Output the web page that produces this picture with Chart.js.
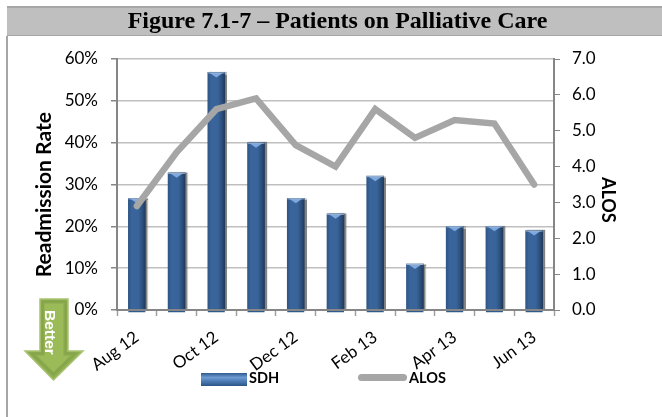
<!DOCTYPE html>
<html><head><meta charset="utf-8">
<script src="https://cdn.jsdelivr.net/npm/chart.js@4"></script>
<style>
html,body{margin:0;padding:0;background:#fff;overflow:hidden}
#wrap{position:relative;width:662px;height:417px}
#band{position:absolute;left:7px;top:6px;width:655px;height:30px;background:#bfbfbf;border-top:2px solid #a6a6a6;box-sizing:border-box;border-bottom:1px solid #a6a6a6}
#side{position:absolute;left:6px;top:36px;width:2px;height:381px;background:#a6a6a6}
canvas{position:absolute;left:0;top:0}
.lg{position:absolute;font:bold 14.5px Lato,sans-serif;color:#000;line-height:16px}
.sw{position:absolute}
#arrow{position:absolute;left:0;top:0}
</style></head><body>
<div id="wrap">
<div id="band"></div><div id="side"></div>
<canvas id="c" width="662" height="417"></canvas>
<svg id="arrow" width="662" height="417">
<path d="M40 299H68V351H83L53.5 380 25 351H40Z" fill="#8fb04f" stroke="#a9c273" stroke-width="1.5"/>
<path d="M43 302H65V354H74L53.5 374 33 354H43Z" fill="#9bbb59" stroke="#7d9a45" stroke-width="3" stroke-opacity=".55"/>
<text transform="translate(45 310) rotate(90)" font-family="Liberation Sans" font-weight="bold" font-size="15.5" fill="#fff">Better</text>
</svg>
<div class="sw" style="left:201px;top:373px;width:46px;height:13px;background:linear-gradient(#2f5a8f,#6f9ad2 35%,#4f7fb9 60%,#2c5587);"></div>
<div class="lg" id="l1" style="left:249px;top:370px"></div>
<div class="sw" style="left:358px;top:374px;width:49px;height:7px;border-radius:4px;background:#a6a6a6"></div>
<div class="lg" id="l2" style="left:409px;top:370px"></div>
</div>
<script>
const categories=['Aug 12','Sep 12','Oct 12','Nov 12','Dec 12','Jan 13','Feb 13','Mar 13','Apr 13','May 13','Jun 13'];
const sdhValues=[26.7,32.8,56.8,40,26.7,23,32,11,20,20,19];
const alosValues=[2.9,4.4,5.6,5.9,4.6,4.0,5.6,4.8,5.3,5.2,3.5];
const titleText='Figure 7.1-7 – Patients on Palliative Care';
const leftTitle='Readmission Rate';
const rightTitle='ALOS';
const sdhLabel='SDH', alosLabel='ALOS';
document.getElementById('l1').textContent=sdhLabel;
document.getElementById('l2').textContent=alosLabel;
const FONT='Lato, sans-serif';
const barFill=(cx)=>{
  const {chart,dataIndex}=cx;
  if(dataIndex===undefined) return '#3a6598';
  const x=chart.scales.x.getPixelForValue(dataIndex);
  if(!Number.isFinite(x)) return '#3a6598';
  const g=chart.ctx.createLinearGradient(x-8.5,0,x+8.5,0);
  g.addColorStop(0,'#2e5585');g.addColorStop(.2,'#3a659c');g.addColorStop(.6,'#38649a');g.addColorStop(.85,'#2a4d78');g.addColorStop(1,'#1f3a5c');
  return g;
};
const barDecor={id:'barDecor',
  beforeDatasetDraw(chart,a){
    if(a.index!==1)return;
    const c=chart.ctx;c.save();c.shadowColor='rgba(110,110,110,.85)';c.shadowOffsetX=2;c.shadowBlur=1;
  },
  afterDatasetDraw(chart,a){
    if(a.index!==1)return;
    const c=chart.ctx;c.restore();c.save();
    a.meta.data.forEach(el=>{
      const {x,y,base,width}=el.getProps(['x','y','base','width'],true);
      const l=x-width/2;
      c.fillStyle='#2f5a8c';c.fillRect(l,base,width,3);
      c.fillStyle='#7fa9de';c.beginPath();c.moveTo(l+2,y+.5);c.lineTo(l+width-2,y+.5);c.lineTo(x,y+5);c.closePath();c.fill();
      c.fillStyle='#9fb6d2';c.fillRect(l,y,width,1);
    });
    c.restore();
  }};
new Chart(document.getElementById('c'),{
  data:{labels:categories,datasets:[
    {type:'line',label:alosLabel,data:alosValues,yAxisID:'y1',borderColor:'#a6a6a6',borderWidth:6.5,pointRadius:0,tension:0,borderJoinStyle:'miter',borderCapStyle:'round',order:0,clip:false},
    {type:'bar',label:sdhLabel,data:sdhValues,yAxisID:'y',backgroundColor:barFill,barThickness:17,order:1}
  ]},
  plugins:[barDecor],
  options:{responsive:false,animation:false,
    layout:{padding:{left:13,right:0,top:0,bottom:0}},
    plugins:{legend:{display:false},tooltip:{enabled:false},
      title:{display:true,text:titleText,color:'#000',font:{family:'Liberation Serif',weight:'bold',size:24,lineHeight:1.2},padding:{top:7,bottom:23.2}}},
    scales:{
      x:{offset:true,
        afterFit(s){s.height=107;},
        grid:{offset:true,drawOnChartArea:false,drawTicks:true,tickLength:6,tickWidth:1.5,tickColor:'#a0a0a0',z:1},
        border:{color:'#868686',width:2,z:1},
        ticks:{autoSkip:false,minRotation:36,maxRotation:36,padding:11,color:'#000',font:{family:FONT,size:17},
          callback(v,i){return i%2===0?this.getLabelForValue(v):'';}}},
      y:{position:'left',min:0,max:60,
        afterFit(s){s.width=104;},
        grid:{color:'#bfbfbf',lineWidth:1.5,tickColor:'#868686',tickLength:6},
        border:{color:'#868686',width:2},
        ticks:{stepSize:10,padding:13,color:'#000',font:{family:FONT,size:17},callback:v=>v+'%'},
        title:{display:true,text:leftTitle+'    ',color:'#000',font:{family:FONT,size:21,weight:'bold'},padding:{top:19,bottom:0}}},
      y1:{position:'right',min:0,max:7,
        afterFit(s){s.width=108;},
        grid:{drawOnChartArea:false,tickColor:'#868686',tickLength:6},
        border:{color:'#868686',width:2},
        ticks:{stepSize:1,padding:12,color:'#000',font:{family:FONT,size:17},callback:v=>v.toFixed(1)},
        title:{display:true,text:'       '+rightTitle,color:'#000',font:{family:FONT,size:18,weight:'bold'},padding:{top:43,bottom:0}}}
    }}
});
</script>
</body></html>
